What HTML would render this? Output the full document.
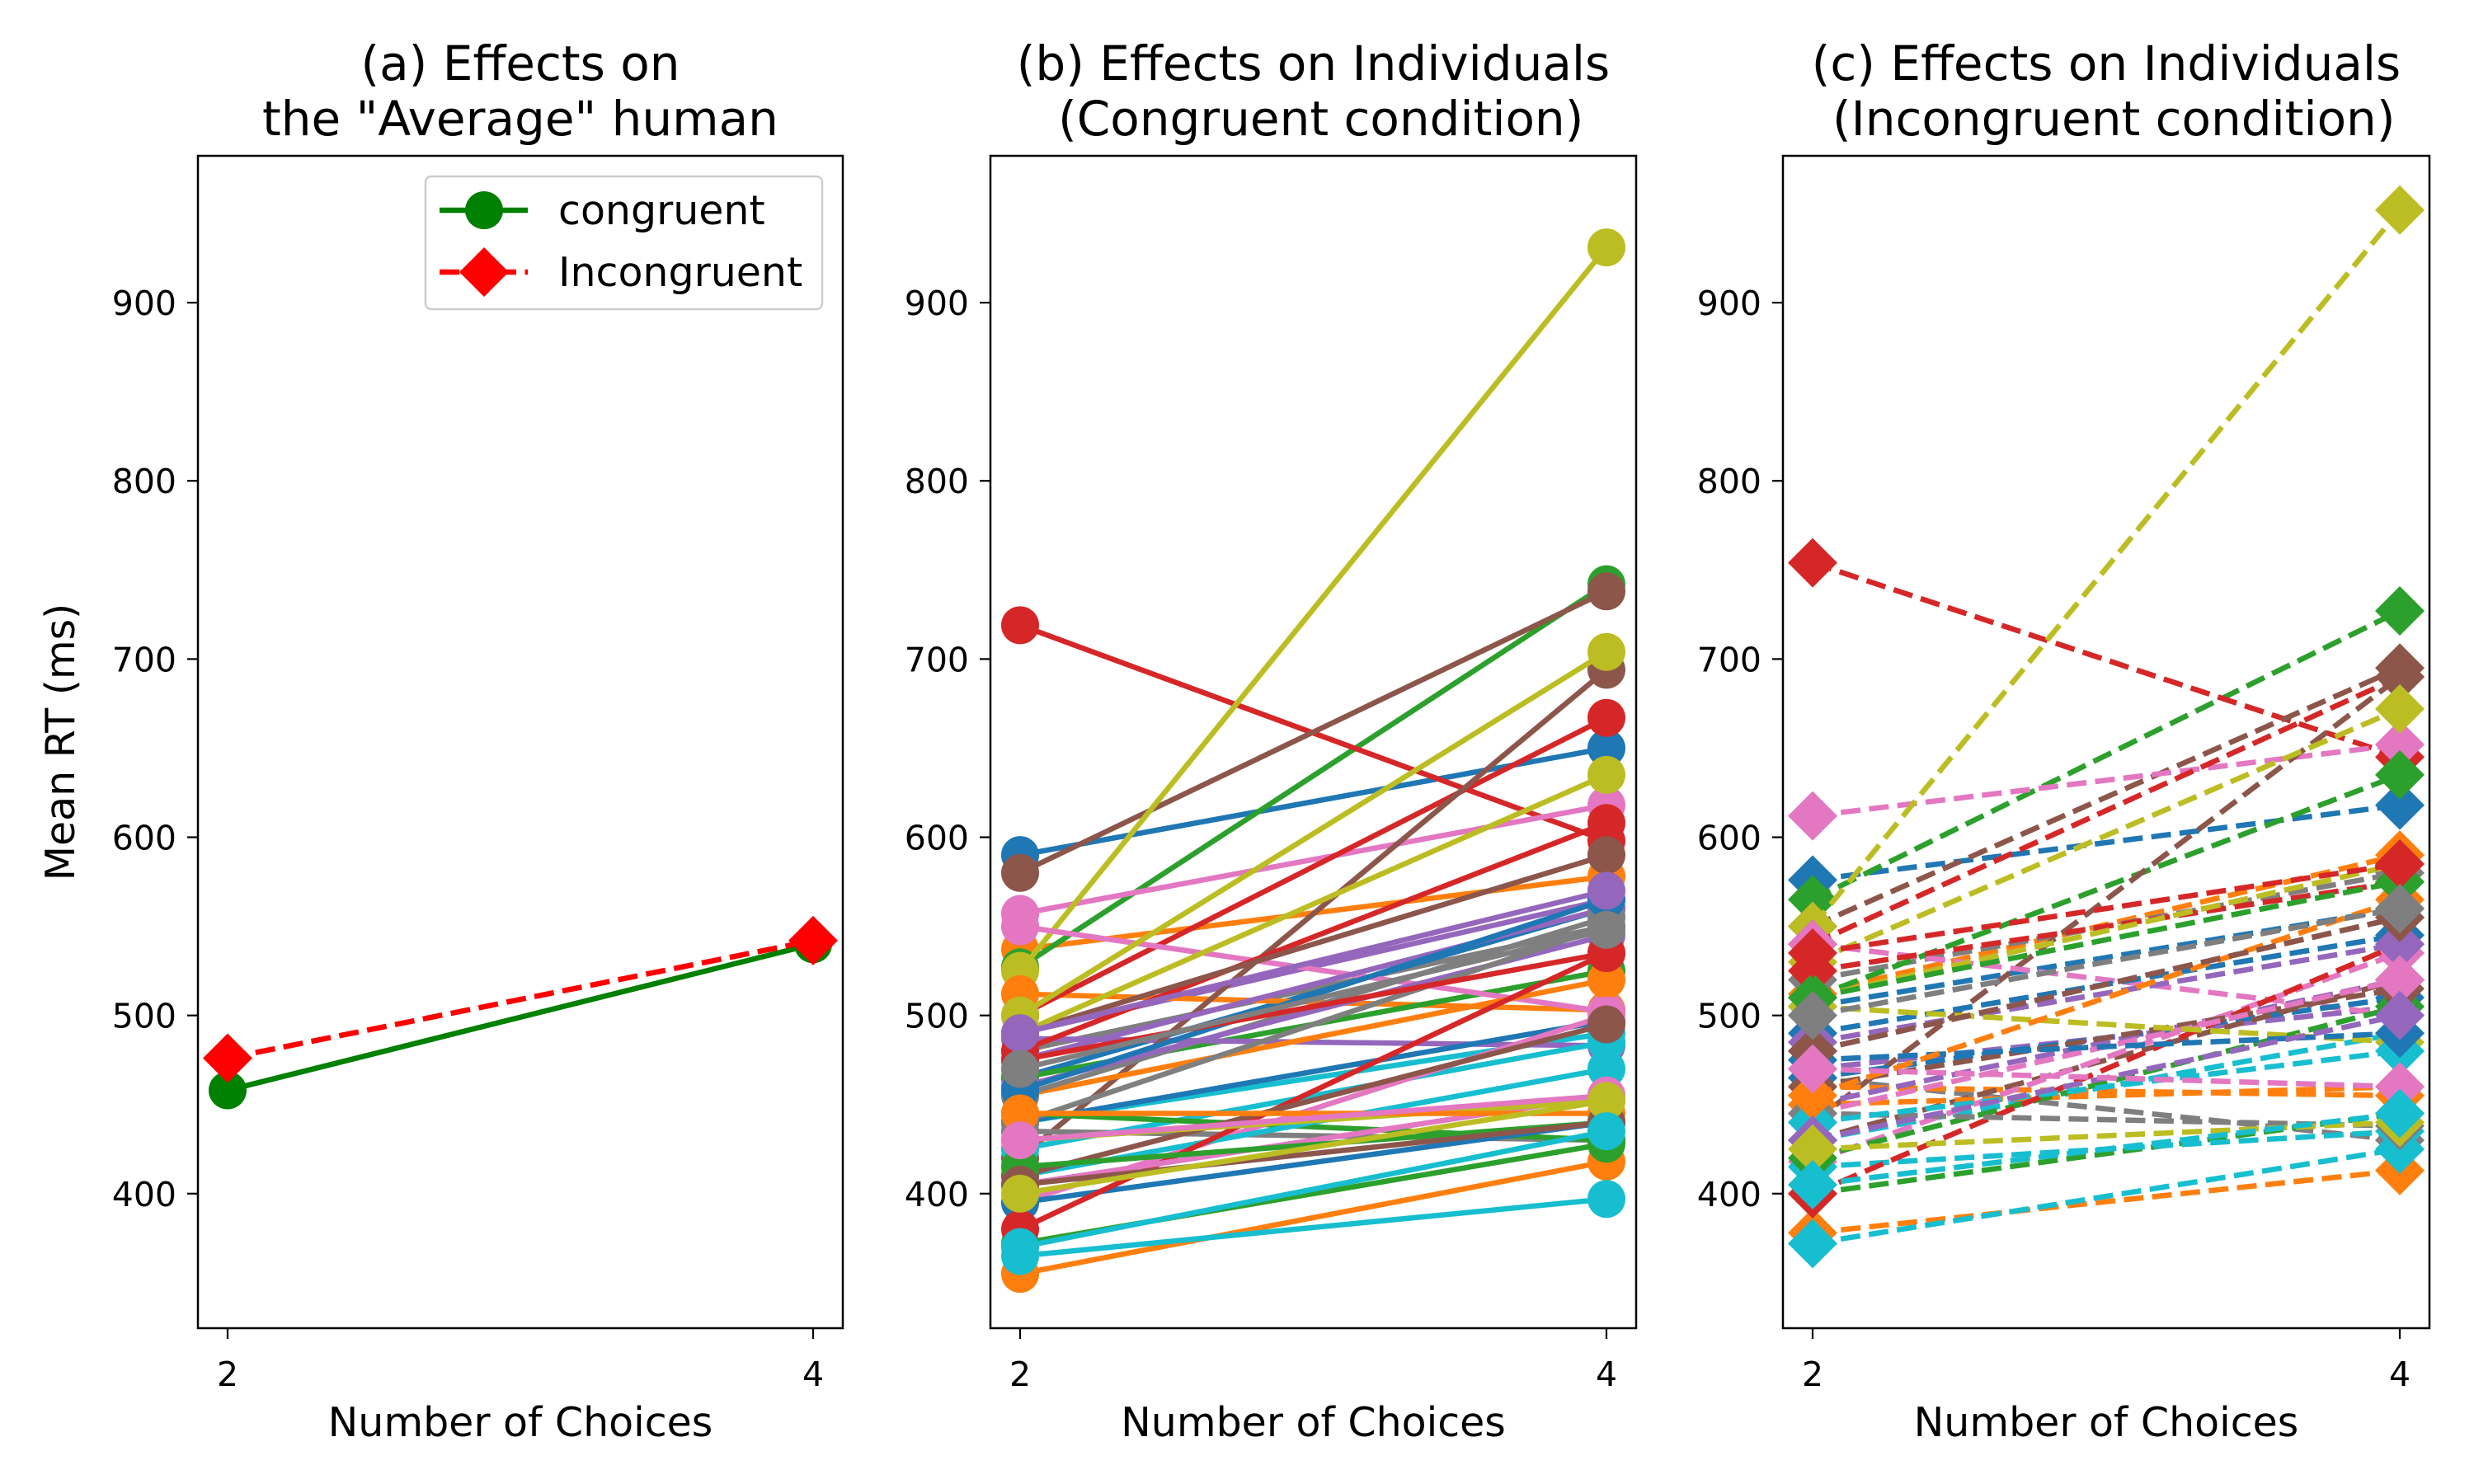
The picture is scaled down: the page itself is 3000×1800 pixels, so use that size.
<!DOCTYPE html>
<html><head><meta charset="utf-8"><style>
body{margin:0;background:#fff}
svg{display:block;font-family:"DejaVu Sans","Liberation Sans",sans-serif}
</style></head><body>
<svg id="fig" width="3000" height="1800" viewBox="0 0 3000 1800" xmlns="http://www.w3.org/2000/svg"></svg>
<script>
const xCats = [2, 4];
const yTicks = [400, 500, 600, 700, 800, 900];
const avgCong = [458, 540];
const avgIncong = [476, 542];
const congAt2 = [590,537,527,719,490,580,557,480,525,440,465,512,465,500,487,420,550,435,500,425,440,455,445,480,475,490,395,455,490,410,395,355,372,380,460,410,405,440,430,365,458,445,415,475,490,405,430,470,400,370];
const congAt4 = [650,578,742,598,565,738,618,550,931,490,560,503,525,667,483,694,502,430,704,485,497,520,430,608,560,590,500,555,635,470,440,418,428,535,545,495,455,550,452,397,565,445,440,535,570,440,455,548,452,435];
const incAt2 = [576,512,565,754,480,550,612,520,550,430,505,378,510,540,470,440,540,465,530,372,465,460,400,525,450,430,418,480,510,415,490,450,420,400,485,460,445,445,505,440,475,455,510,535,430,480,470,500,425,405];
const incAt4 = [618,590,727,645,555,695,652,580,952,490,560,413,635,690,505,690,500,430,672,425,510,455,445,575,520,520,535,555,585,435,545,460,505,540,540,515,520,438,485,480,490,565,575,585,500,555,460,560,440,445];
const palette = ['#1f77b4','#ff7f0e','#2ca02c','#d62728','#9467bd','#8c564b','#e377c2','#7f7f7f','#bcbd22','#17becf'];

const NS='http://www.w3.org/2000/svg';
const svgEl=document.getElementById('fig');
function mk(tag,attrs,parent){const e=document.createElementNS(NS,tag);for(const k in attrs)e.setAttribute(k,attrs[k]);(parent||svgEl).appendChild(e);return e;}
const Y0=324.5,Y1=982.4,TOP=189,BOT=1611;
const LW=6.5;
function yS(v){return BOT-(v-Y0)/(Y1-Y0)*(BOT-TOP);}
const panels=[{l:240,r:1022,t1:'(a) Effects on',t2:'the "Average" human',n:'panel-average'},
{l:1201,r:1984,t1:'(b) Effects on Individuals',t2:' (Congruent condition)',n:'panel-congruent'},
{l:2162,r:2946,t1:'(c) Effects on Individuals',t2:' (Incongruent condition)',n:'panel-incongruent'}];
function xS(p,c){return p.l+36+(c-2)/2*(p.r-p.l-72);}
function circle(g,x,y,col){const c=mk('circle',{cx:x,cy:y,r:23,fill:col},g);}
function diamond(g,x,y,col){const d=30;const p=mk('polygon',{points:`${x},${y-d} ${x+d},${y} ${x},${y+d} ${x-d},${y}`,fill:col},g);}
function series(g,p,vals,col,dashed,shape){
  const ln=mk('line',{x1:xS(p,xCats[0]),y1:yS(vals[0]),x2:xS(p,xCats[1]),y2:yS(vals[1]),stroke:col,'stroke-width':LW,'stroke-dasharray':dashed?'24 10.5':'none'},g);
  
  
  vals.forEach((v,i)=>shape(g,xS(p,xCats[i]),yS(v),col));
}
panels.forEach((p,pi)=>{
  const g=mk('g',{});
  
  
  const clipId='clip'+pi;
  const cp=mk('clipPath',{id:clipId},g);mk('rect',{x:p.l,y:TOP,width:p.r-p.l,height:BOT-TOP},cp);
  const pl=mk('g',{'clip-path':`url(#${clipId})`},g);
  
  
  if(pi===0){
    series(pl,p,avgCong,'#008000',false,circle);
    series(pl,p,avgIncong,'#ff0000',true,diamond);
  } else {
    const a=pi===1?congAt2:incAt2, b=pi===1?congAt4:incAt4;
    a.forEach((v,i)=>series(pl,p,[v,b[i]],palette[i%10],pi===2,pi===1?circle:diamond));
  }
  const fr=mk('rect',{x:p.l,y:TOP,width:p.r-p.l,height:BOT-TOP,fill:'none',stroke:'#000','stroke-width':2.5},g);
  
  
  yTicks.forEach(t=>{
    mk('line',{x1:p.l-13,x2:p.l,y1:yS(t),y2:yS(t),stroke:'#000','stroke-width':2.2},g);
    const tx=mk('text',{x:p.l-26,y:yS(t)+15,'font-size':41,'text-anchor':'end'},g);tx.textContent=t;
    
    
  });
  xCats.forEach(c=>{
    mk('line',{x1:xS(p,c),x2:xS(p,c),y1:BOT,y2:BOT+13,stroke:'#000','stroke-width':2.2},g);
    const tx=mk('text',{x:xS(p,c),y:BOT+70,'font-size':41,'text-anchor':'middle'},g);tx.textContent=c;
    
    
  });
  const xl=mk('text',{x:(p.l+p.r)/2,y:1742,'font-size':49,'text-anchor':'middle'},g);xl.textContent='Number of Choices';
  
  
  const t1=mk('text',{x:(p.l+p.r)/2,y:97,'font-size':58,'text-anchor':'middle'},g);t1.textContent=p.t1;
  
  
  const t2=mk('text',{x:(p.l+p.r)/2,y:164,'font-size':58,'text-anchor':'middle','style':'white-space:pre'},g);t2.textContent=p.t2;
  
  
});
const yl=mk('text',{x:0,y:0,'font-size':49,'text-anchor':'middle',transform:'translate(90,900) rotate(-90)'});yl.textContent='Mean RT (ms)';


const lg=mk('g',{});


mk('rect',{x:516,y:214,width:481,height:161,rx:7,fill:'#fff','fill-opacity':0.8,stroke:'#ccc','stroke-width':2.5},lg);
mk('line',{x1:533,x2:640,y1:255,y2:255,stroke:'#008000','stroke-width':LW},lg);
circle(lg,587,255,'#008000');
mk('line',{x1:533,x2:640,y1:330,y2:330,stroke:'#ff0000','stroke-width':LW,'stroke-dasharray':'24 10.5'},lg);
diamond(lg,587,330,'#ff0000');
const le1=mk('text',{x:677,y:272,'font-size':49},lg);le1.textContent='congruent';


const le2=mk('text',{x:677,y:347,'font-size':49},lg);le2.textContent='Incongruent';


</script>
</body></html>
